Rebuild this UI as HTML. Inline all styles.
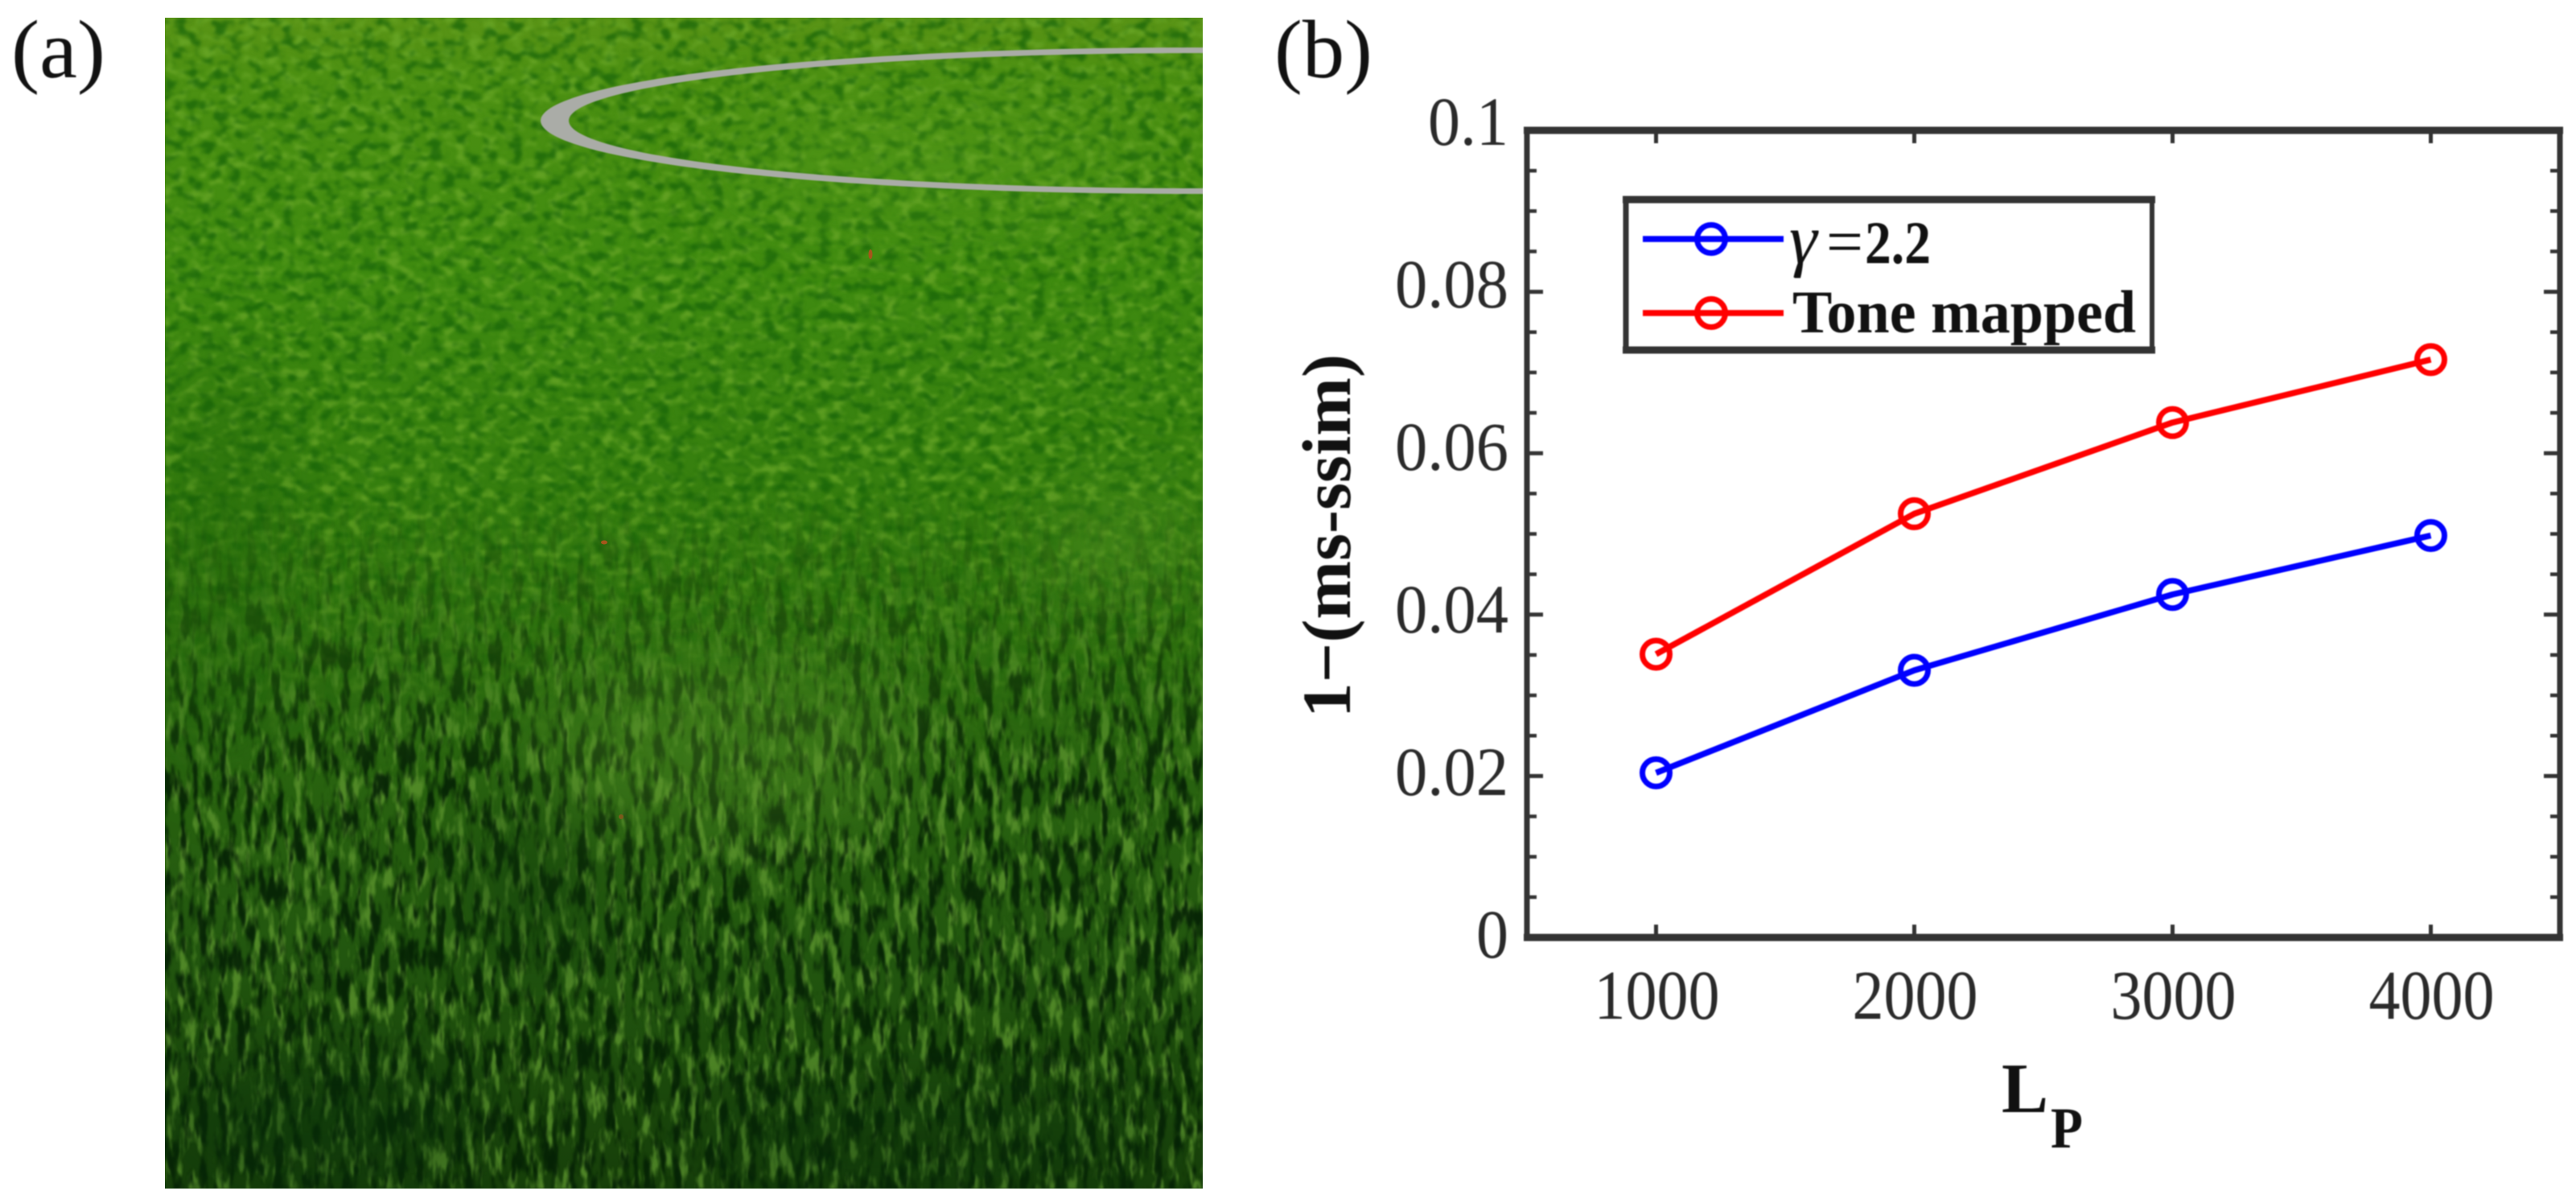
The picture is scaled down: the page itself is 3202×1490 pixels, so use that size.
<!DOCTYPE html>
<html lang="en">
<head>
<meta charset="utf-8">
<title>Grass image and 1-(ms-ssim) chart</title>
<style>
  html, body { margin: 0; padding: 0; background: #fff; width: 3202px; height: 1490px; overflow: hidden; }
  svg { display: block; }
  text { font-family: "Liberation Serif", serif; }
</style>
</head>
<body>
<svg id="figure" xmlns="http://www.w3.org/2000/svg" width="3202" height="1490" viewBox="0 0 3202 1490">
  <defs>
    <clipPath id="photoClip"><rect x="205" y="22" width="1290" height="1455"/></clipPath>
    <linearGradient id="grassBase" x1="0" y1="0" x2="0" y2="1">
      <stop offset="0" stop-color="#5a9416"/>
      <stop offset="0.05" stop-color="#4c9012"/>
      <stop offset="0.22" stop-color="#3f8b10"/>
      <stop offset="0.42" stop-color="#357d0f"/>
      <stop offset="0.6" stop-color="#2b6710"/>
      <stop offset="0.8" stop-color="#22560f"/>
      <stop offset="1" stop-color="#173f0a"/>
    </linearGradient>
    <linearGradient id="fadeTop" x1="0" y1="0" x2="0" y2="1">
      <stop offset="0" stop-color="#fff"/>
      <stop offset="0.4" stop-color="#fff"/>
      <stop offset="0.65" stop-color="#000"/>
    </linearGradient>
    <linearGradient id="fadeBottom" x1="0" y1="0" x2="0" y2="1">
      <stop offset="0.4" stop-color="#000"/>
      <stop offset="0.65" stop-color="#fff"/>
    </linearGradient>
    <mask id="maskTop" maskUnits="userSpaceOnUse" x="205" y="22" width="1290" height="1455"><rect x="205" y="22" width="1290" height="1455" fill="url(#fadeTop)"/></mask>
    <mask id="maskBottom" maskUnits="userSpaceOnUse" x="205" y="22" width="1290" height="1455"><rect x="205" y="22" width="1290" height="1455" fill="url(#fadeBottom)"/></mask>
    <filter id="fineLight" x="0" y="0" width="100%" height="100%" color-interpolation-filters="sRGB">
      <feTurbulence type="fractalNoise" baseFrequency="0.06 0.085" numOctaves="2" seed="7"/>
      <feColorMatrix type="matrix" values="0 0 0 0 0.42  0 0 0 0 0.66  0 0 0 0 0.16  4 0 0 0 -1.95"/>
      <feGaussianBlur stdDeviation="1.6"/>
    </filter>
    <filter id="fineDark" x="0" y="0" width="100%" height="100%" color-interpolation-filters="sRGB">
      <feTurbulence type="fractalNoise" baseFrequency="0.06 0.08" numOctaves="2" seed="21"/>
      <feColorMatrix type="matrix" values="0 0 0 0 0.08  0 0 0 0 0.38  0 0 0 0 0.03  0 4 0 0 -1.9"/>
      <feGaussianBlur stdDeviation="1.6"/>
    </filter>
    <filter id="bladeLight" x="0" y="0" width="100%" height="100%" color-interpolation-filters="sRGB">
      <feTurbulence type="fractalNoise" baseFrequency="0.09 0.026" numOctaves="3" seed="3"/>
      <feColorMatrix type="matrix" values="0 0 0 0 0.36  0 0 0 0 0.58  0 0 0 0 0.18  5 0 0 0 -2.5"/>
      <feGaussianBlur stdDeviation="1"/>
    </filter>
    <filter id="bladeDark" x="0" y="0" width="100%" height="100%" color-interpolation-filters="sRGB">
      <feTurbulence type="fractalNoise" baseFrequency="0.085 0.024" numOctaves="3" seed="12"/>
      <feColorMatrix type="matrix" values="0 0 0 0 0.02  0 0 0 0 0.13  0 0 0 0 0.02  0 5 0 0 -2.35"/>
      <feGaussianBlur stdDeviation="1"/>
    </filter>
    <filter id="patchBlur" x="-50%" y="-50%" width="200%" height="200%" color-interpolation-filters="sRGB"><feGaussianBlur stdDeviation="50"/></filter>
    <filter id="soft" x="-5%" y="-5%" width="110%" height="110%" color-interpolation-filters="sRGB"><feGaussianBlur stdDeviation="0.9"/></filter>
  </defs>

  <g id="photo" clip-path="url(#photoClip)">
    <rect x="205" y="22" width="1290" height="1455" fill="url(#grassBase)"/>
    <g mask="url(#maskTop)">
      <rect x="205" y="22" width="1290" height="1455" filter="url(#fineLight)" opacity="0.75"/>
      <rect x="205" y="22" width="1290" height="1455" filter="url(#fineDark)" opacity="0.7"/>
    </g>
    <g mask="url(#maskBottom)">
      <rect x="205" y="22" width="1290" height="1455" filter="url(#bladeLight)" opacity="0.8"/>
      <rect x="205" y="22" width="1290" height="1455" filter="url(#bladeDark)" opacity="0.9"/>
    </g>
    <g filter="url(#patchBlur)">
      <ellipse cx="400" cy="1400" rx="190" ry="70" fill="#08300a" opacity="0.55"/>
      <ellipse cx="660" cy="1100" rx="70" ry="100" fill="#0c3608" opacity="0.5"/>
      <ellipse cx="900" cy="930" rx="240" ry="110" fill="#5f9a2a" opacity="0.3"/>
      <ellipse cx="1390" cy="670" rx="100" ry="60" fill="#66a02e" opacity="0.3"/>
      <ellipse cx="1150" cy="1420" rx="300" ry="50" fill="#08300a" opacity="0.5"/>
      <ellipse cx="280" cy="700" rx="60" ry="260" fill="#1b5c0a" opacity="0.35"/>
      <ellipse cx="1150" cy="200" rx="260" ry="60" fill="#5fa320" opacity="0.3"/>
    </g>
    <path fill="#aaaca7" fill-rule="evenodd" filter="url(#soft)"
      d="M672 150 A808 91 0 0 1 2288 150 A808 91 0 0 1 672 150 Z M707 150 A783 84 0 0 0 2273 150 A783 84 0 0 0 707 150 Z"/>
    <ellipse cx="1082" cy="316" rx="2.5" ry="6" fill="#a5561b"/>
    <ellipse cx="751" cy="674" rx="4" ry="2.5" fill="#a5561b"/>
    <ellipse cx="772" cy="1015" rx="3" ry="3" fill="#7b5a1b"/>
  </g>

  <g id="labels" filter="url(#soft)">
    <text x="14" y="96" font-size="103" fill="#111" textLength="117" lengthAdjust="spacingAndGlyphs">(a)</text>
    <text x="1584" y="96" font-size="103" fill="#111" textLength="122" lengthAdjust="spacingAndGlyphs">(b)</text>
  </g>

  <g id="chart" filter="url(#soft)"></g>

  <g id="legend" filter="url(#soft)">
    <g>
      <line x1="2017" y1="248" x2="2679" y2="248" stroke="#333" stroke-width="9"/>
      <line x1="2017" y1="435" x2="2679" y2="435" stroke="#333" stroke-width="9"/>
      <line x1="2021" y1="248" x2="2021" y2="435" stroke="#333" stroke-width="7"/>
      <line x1="2675" y1="248" x2="2675" y2="435" stroke="#333" stroke-width="6"/>
    </g>
    <g>
      <line x1="2042" y1="297" x2="2217" y2="297" stroke="#0000ff" stroke-width="7.5"/>
      <circle cx="2127" cy="297" r="17.5" fill="none" stroke="#0000ff" stroke-width="7"/>
      <text x="2224" y="327" font-size="88" font-style="italic" fill="#111">γ</text>
      <text x="2270" y="327" font-size="80" fill="#111" textLength="46" lengthAdjust="spacingAndGlyphs">=</text>
      <text x="2318" y="327" font-size="75" font-weight="bold" fill="#111" textLength="82" lengthAdjust="spacingAndGlyphs">2.2</text>
    </g>
    <g>
      <line x1="2042" y1="389" x2="2217" y2="389" stroke="#ff0000" stroke-width="7.5"/>
      <circle cx="2127" cy="389" r="17.5" fill="none" stroke="#ff0000" stroke-width="7"/>
      <text x="2228" y="413" font-size="75" font-weight="bold" fill="#111" textLength="427" lengthAdjust="spacingAndGlyphs">Tone mapped</text>
    </g>
  </g>
</svg>

<script>
const categories = [1000, 2000, 3000, 4000];
const gammaSeries = [0.0204, 0.0331, 0.0425, 0.0498];
const toneMappedSeries = [0.0351, 0.0525, 0.0638, 0.0716];
const yMajorTicks = [0, 0.02, 0.04, 0.06, 0.08, 0.1];
const yTickLabels = ["0", "0.02", "0.04", "0.06", "0.08", "0.1"];
const yMinorTicks = [0.005, 0.01, 0.015, 0.025, 0.03, 0.035, 0.045, 0.05, 0.055, 0.065, 0.07, 0.075, 0.085, 0.09, 0.095];
const xTickLabels = ["1000", "2000", "3000", "4000"];

const NS = "http://www.w3.org/2000/svg";
const chart = document.getElementById("chart");
const plot = { left: 1898, right: 3182, top: 162, bottom: 1165 };
const xDomain = [500, 4500];
const yDomain = [0, 0.1];

function xScale(v) {
  return plot.left + (v - xDomain[0]) / (xDomain[1] - xDomain[0]) * (plot.right - plot.left);
}
function yScale(v) {
  return plot.bottom - (v - yDomain[0]) / (yDomain[1] - yDomain[0]) * (plot.bottom - plot.top);
}
function make(tag, attrs, parent) {
  const el = document.createElementNS(NS, tag);
  for (const k in attrs) el.setAttribute(k, attrs[k]);
  parent.appendChild(el);
  return el;
}

const axisColor = "#333";

const frame = make("g", {}, chart);


make("line", { x1: plot.left - 4, x2: plot.right + 4, y1: plot.top, y2: plot.top, stroke: axisColor, "stroke-width": 9 }, frame);
make("line", { x1: plot.left - 4, x2: plot.right + 4, y1: plot.bottom, y2: plot.bottom, stroke: axisColor, "stroke-width": 9 }, frame);
make("line", { x1: plot.left, x2: plot.left, y1: plot.top, y2: plot.bottom, stroke: axisColor, "stroke-width": 7 }, frame);
make("line", { x1: plot.right, x2: plot.right, y1: plot.top, y2: plot.bottom, stroke: axisColor, "stroke-width": 7 }, frame);

categories.forEach(function (c, i) {
  const x = xScale(c);
  const bottomTick = make("line", { x1: x, x2: x, y1: plot.bottom, y2: plot.bottom - 16, stroke: axisColor, "stroke-width": 5 }, chart);
  
  
  const topTick = make("line", { x1: x, x2: x, y1: plot.top, y2: plot.top + 16, stroke: axisColor, "stroke-width": 5 }, chart);
  
  
  const label = make("text", { x: x + 1, y: 1266, "font-size": 87, fill: "#2a2a2a", "text-anchor": "middle", textLength: 156, lengthAdjust: "spacingAndGlyphs" }, chart);
  label.textContent = xTickLabels[i];
  
  
});

yMajorTicks.forEach(function (v, i) {
  const y = yScale(v);
  if (i > 0 && i < yMajorTicks.length - 1) {
    const left = make("line", { x1: plot.left, x2: plot.left + 20, y1: y, y2: y, stroke: axisColor, "stroke-width": 5 }, chart);
    
    
    const right = make("line", { x1: plot.right, x2: plot.right - 20, y1: y, y2: y, stroke: axisColor, "stroke-width": 5 }, chart);
    
    
  }
  const text = yTickLabels[i];
  const label = make("text", { x: 1875, y: 1190 - v * 10100, "font-size": 86, fill: "#2a2a2a", "text-anchor": "end", textLength: text.length === 4 ? 141 : (text.length === 3 ? 100 : 40), lengthAdjust: "spacingAndGlyphs" }, chart);
  label.textContent = text;
  
  
});

yMinorTicks.forEach(function (v) {
  const y = yScale(v);
  const left = make("line", { x1: plot.left, x2: plot.left + 12, y1: y, y2: y, stroke: axisColor, "stroke-width": 4.5 }, chart);
  
  
  const right = make("line", { x1: plot.right, x2: plot.right - 12, y1: y, y2: y, stroke: axisColor, "stroke-width": 4.5 }, chart);
  
  
});

function drawSeries(values, color, name) {
  const group = make("g", {}, chart);
  
  
  const pts = values.map(function (v, i) { return xScale(categories[i]) + "," + yScale(v); }).join(" ");
  const line = make("polyline", { points: pts, fill: "none", stroke: color, "stroke-width": 7.5, "stroke-linejoin": "round" }, group);
  
  
  values.forEach(function (v, i) {
    const marker = make("circle", { cx: xScale(categories[i]), cy: yScale(v), r: 17, fill: "none", stroke: color, "stroke-width": 7 }, group);
    
    
  });
}
drawSeries(gammaSeries, "#0000ff", "series-gamma-2-2");
drawSeries(toneMappedSeries, "#ff0000", "series-tone-mapped");

const yTitle = make("text", { transform: "translate(1678,892) rotate(-90)", x: 0, y: 0, "font-size": 86, "font-weight": "bold", fill: "#111", textLength: 452, lengthAdjust: "spacingAndGlyphs" }, chart);
yTitle.textContent = "1\u2212(ms-ssim)";



const xTitle = make("text", { x: 2488, y: 1382, "font-size": 88, "font-weight": "bold", fill: "#111", textLength: 58, lengthAdjust: "spacingAndGlyphs" }, chart);
xTitle.textContent = "L";



const xTitleSub = make("text", { x: 2549, y: 1426, "font-size": 72, "font-weight": "bold", fill: "#111", textLength: 40, lengthAdjust: "spacingAndGlyphs" }, chart);
xTitleSub.textContent = "P";


</script>
</body>
</html>
